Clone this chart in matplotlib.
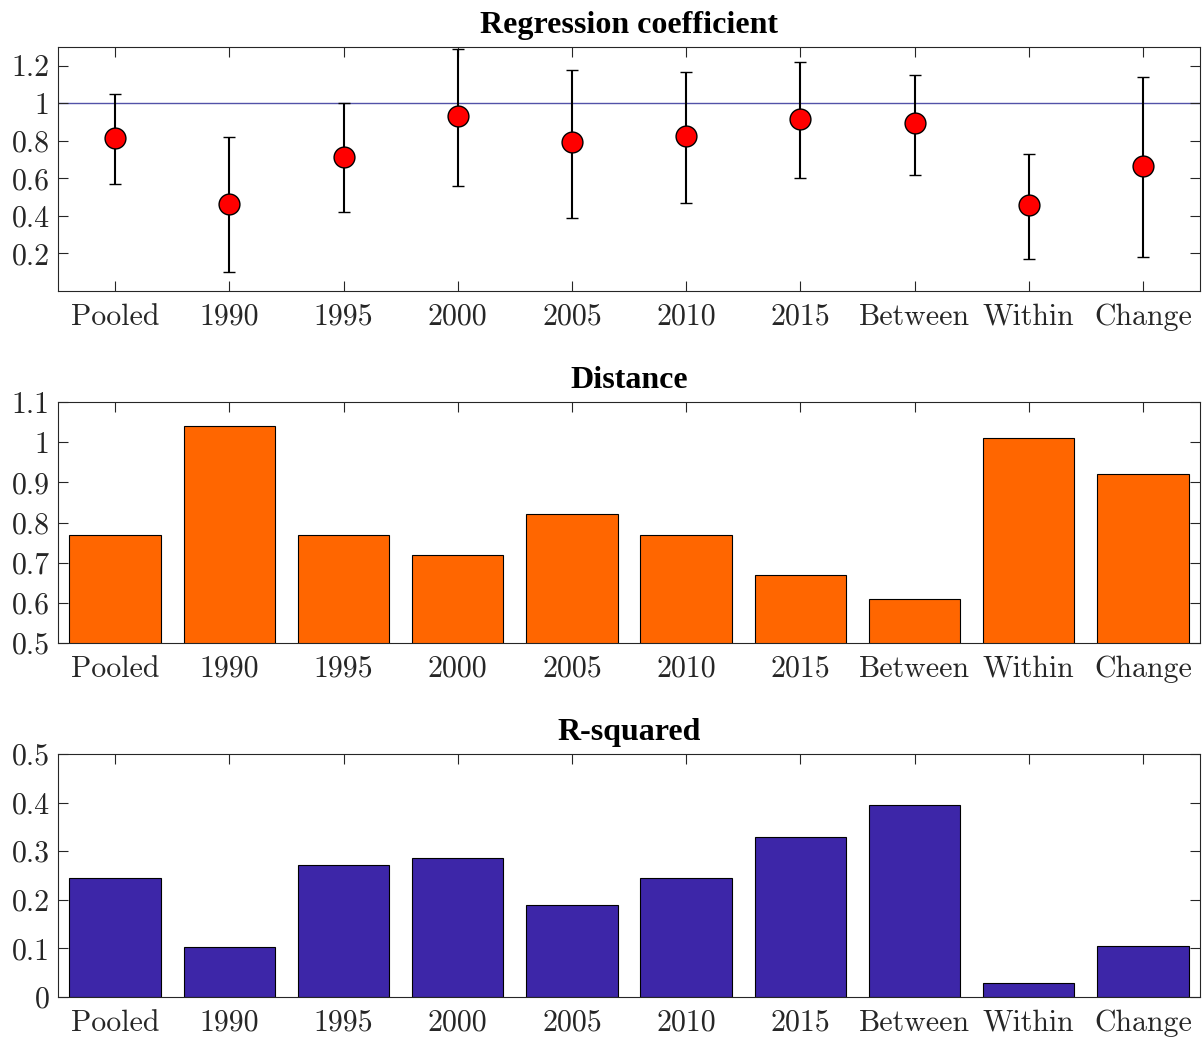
import matplotlib
matplotlib.use("Agg")
import matplotlib.pyplot as plt
import numpy as np

categories = ["Pooled", "1990", "1995", "2000", "2005", "2010", "2015", "Between", "Within", "Change"]
coef = [0.815, 0.465, 0.714, 0.934, 0.794, 0.824, 0.915, 0.895, 0.456, 0.664]
coef_upper = [1.052, 0.819, 1.0, 1.29, 1.18, 1.169, 1.219, 1.15, 0.73, 1.139]
coef_lower = [0.570, 0.100, 0.42, 0.561, 0.389, 0.47, 0.60, 0.62, 0.17, 0.18]
distance = [0.77, 1.04, 0.77, 0.72, 0.82, 0.77, 0.67, 0.61, 1.01, 0.92]
rsquared = [0.2445, 0.103, 0.271, 0.286, 0.189, 0.2445, 0.329, 0.395, 0.028, 0.104]
titles = ["Regression coefficient", "Distance", "R-squared"]

plt.rcParams['axes.unicode_minus'] = False
W, H = 1202, 1037
fig = plt.figure(figsize=(W / 100, H / 100), dpi=100)

def px_axes(top, bottom, left=58, right=1200):
    return fig.add_axes([left / W, 1 - bottom / H, (right - left) / W, (bottom - top) / H])

ax1 = px_axes(47, 291)
ax2 = px_axes(402, 643)
ax3 = px_axes(754, 997)

x = np.arange(1, len(categories) + 1)
spine_col = "#262626"
tick_font = dict(family="cmr10", size=21.5)

def style(ax, title, yticks, yticklabels, ylim):
    ax.set_xlim(0.5, 10.5)
    ax.set_ylim(*ylim)
    ax.set_xticks(x)
    ax.set_xticklabels(categories, fontdict=tick_font, color="#262626")
    ax.set_yticks(yticks)
    ax.set_yticklabels(yticklabels, fontdict=tick_font, color="#262626")
    ax.tick_params(direction="in", length=7, width=0.8, color=spine_col,
                   top=True, right=True)
    ax.tick_params(axis="x", pad=9)
    ax.tick_params(axis="y", pad=6)
    for s in ax.spines.values():
        s.set_color(spine_col)
        s.set_linewidth(0.8)
    ax.set_title(title, family="Liberation Serif", weight="bold", size=23, pad=10)

# Top panel: coefficients with error bars
ax1.axhline(1.0, color="#5252A8", lw=1.0, zorder=1)
c = np.array(coef)
yerr = np.vstack([c - np.array(coef_lower), np.array(coef_upper) - c])
ax1.errorbar(x, c, yerr=yerr, fmt="o", color="black", ecolor="black", elinewidth=1.5,
             capsize=4.5, capthick=1.5, markersize=15, markerfacecolor="#FF0000",
             markeredgecolor="black", markeredgewidth=1.0, zorder=3)
style(ax1, titles[0], [0.2, 0.4, 0.6, 0.8, 1.0, 1.2], ["0.2", "0.4", "0.6", "0.8", "1", "1.2"], (0, 1.3))

# Middle panel: distance
ax2.bar(x, distance, width=0.8, color="#FF6600", edgecolor="black", linewidth=0.8, zorder=2)
style(ax2, titles[1], [0.5, 0.6, 0.7, 0.8, 0.9, 1.0, 1.1],
      ["0.5", "0.6", "0.7", "0.8", "0.9", "1", "1.1"], (0.5, 1.1))

# Bottom panel: R-squared
ax3.bar(x, rsquared, width=0.8, color="#3D26A8", edgecolor="black", linewidth=0.8, zorder=2)
style(ax3, titles[2], [0, 0.1, 0.2, 0.3, 0.4, 0.5],
      ["0", "0.1", "0.2", "0.3", "0.4", "0.5"], (0, 0.5))

fig.savefig("out.png", dpi=100)
